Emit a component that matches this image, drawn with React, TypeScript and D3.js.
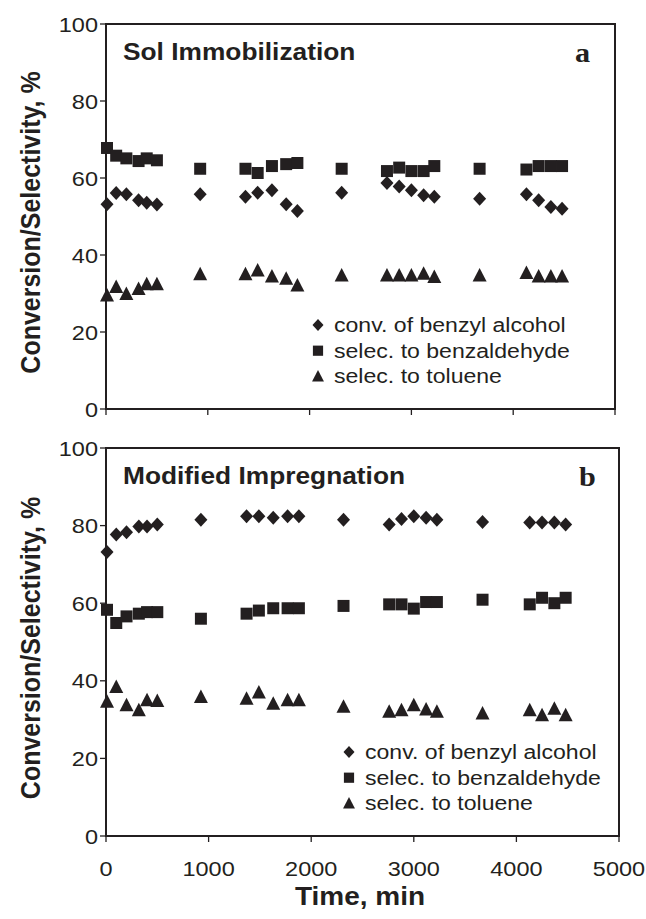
import React from 'react';
import * as d3 from 'd3';

// time points (min), shared by both panels
const TIME = [10, 100, 200, 320, 400, 500, 925, 1370, 1490, 1630, 1770, 1880, 2315, 2760, 2880, 3000, 3120, 3225, 3670, 4130, 4250, 4370, 4480];

// panel a: Sol Immobilization
const A_CONV = [53.2, 56.1, 55.8, 54.2, 53.6, 53.1, 55.8, 55.1, 56.2, 56.8, 53.2, 51.4, 56.2, 58.7, 57.8, 56.8, 55.5, 55.1, 54.6, 55.8, 54.2, 52.5, 52.0];
const A_BENZ = [67.8, 65.8, 65.1, 64.4, 65.1, 64.6, 62.4, 62.4, 61.3, 63.1, 63.6, 63.9, 62.4, 61.8, 62.7, 61.8, 61.8, 63.1, 62.4, 62.2, 63.1, 63.1, 63.1];
const A_TOL = [29.5, 31.7, 29.9, 31.2, 32.4, 32.4, 35.0, 35.0, 36.0, 34.4, 33.8, 32.1, 34.7, 34.7, 34.7, 34.7, 35.1, 34.3, 34.7, 35.3, 34.4, 34.4, 34.4];

// panel b: Modified Impregnation
const B_CONV = [73.2, 77.7, 78.3, 79.8, 79.8, 80.3, 81.5, 82.4, 82.4, 82.0, 82.4, 82.4, 81.5, 80.3, 81.7, 82.4, 82.0, 81.5, 80.9, 80.8, 80.8, 80.8, 80.3];
const B_BENZ = [58.3, 54.9, 56.6, 57.3, 57.7, 57.7, 56.0, 57.3, 58.1, 58.7, 58.7, 58.7, 59.3, 59.7, 59.7, 58.6, 60.3, 60.3, 60.9, 59.7, 61.4, 60.0, 61.4];
const B_TOL = [34.6, 38.4, 33.7, 32.4, 35.0, 34.8, 35.8, 35.4, 37.0, 34.1, 35.0, 35.0, 33.3, 32.0, 32.4, 33.7, 32.6, 32.0, 31.6, 32.4, 31.1, 32.8, 31.1];

const Y_TICKS = [0, 20, 40, 60, 80, 100];
const X_TICKS = [0, 1000, 2000, 3000, 4000, 5000];
const SERIES_LABELS = ['conv. of benzyl alcohol', 'selec. to benzaldehyde', 'selec. to toluene'];
const PANEL_TITLES = ['Sol Immobilization', 'Modified Impregnation'];
const PANEL_LETTERS = ['a', 'b'];

const INK = '#231f20';
const SANS = '"Liberation Sans", Arial, Helvetica, sans-serif';
const SERIF = '"Liberation Serif", "Times New Roman", serif';
const STRETCH = 1.12; // the source figure is a bit wider than tall

const markerPath = (kind: string) => {
  if (kind === 'diamond') return 'M0,-7L6.5,0L0,7L-6.5,0Z';
  if (kind === 'square') return 'M-6,-6H6V6H-6Z';
  return 'M0,-7.5L7,6L-7,6Z';
};
const KINDS = ['diamond', 'square', 'triangle'];

const PANELS = [
  { top: 24, bottom: 409, left: 106, right: 615, series: [A_CONV, A_BENZ, A_TOL], showX: false, legendX: 318, legendY: 325 },
  { top: 448, bottom: 836, left: 106, right: 619, series: [B_CONV, B_BENZ, B_TOL], showX: true, legendX: 349, legendY: 752 },
];

function Panel({ idx }: { idx: number }) {
  const p = PANELS[idx];
  const x = d3.scaleLinear().domain([0, 5000]).range([p.left, p.right]);
  const y = d3.scaleLinear().domain([0, 100]).range([p.bottom, p.top]);
  const midY = (p.top + p.bottom) / 2;

  return (
    <g>
      {/* frame */}
      <rect x={p.left} y={p.top} width={p.right - p.left} height={p.bottom - p.top} fill="none" stroke={INK} strokeWidth={2} />

      {/* y ticks */}
      {Y_TICKS.map((t) => (
        <g key={'y' + t}>
          <line x1={p.left - 6} x2={p.left} y1={y(t)} y2={y(t)} stroke={INK} strokeWidth={1.3} />
          <text transform={`translate(${p.left - 8},${y(t) + 7.5}) scale(${STRETCH},1)`} textAnchor="end" fontFamily={SANS} fontSize={21} fill={INK}>{t}</text>
        </g>
      ))}

      {/* x ticks */}
      {X_TICKS.map((t) => (
        <g key={'x' + t}>
          <line x1={x(t)} x2={x(t)} y1={p.bottom} y2={p.bottom + 6} stroke={INK} strokeWidth={1.3} />
          {p.showX && (
            <text transform={`translate(${x(t)},${p.bottom + 40}) scale(${STRETCH},1)`} textAnchor="middle" fontFamily={SANS} fontSize={21} fill={INK}>{t}</text>
          )}
        </g>
      ))}

      {/* y axis title */}
      <text transform={`translate(40,${midY + 6}) scale(${STRETCH},1) rotate(-90)`} textAnchor="middle" fontFamily={SANS} fontWeight="bold" fontSize={25} fill={INK}>Conversion/Selectivity, %</text>

      {/* panel title and letter */}
      <text transform={`translate(${p.left + 17},${p.top + 36}) scale(${STRETCH},1)`} fontFamily={SANS} fontWeight="bold" fontSize={23.5} fill={INK}>{PANEL_TITLES[idx]}</text>
      <text transform={`translate(${p.right - 40},${p.top + 38}) scale(${STRETCH},1)`} fontFamily={SERIF} fontWeight="bold" fontSize={27} fill={INK}>{PANEL_LETTERS[idx]}</text>

      {/* markers */}
      {p.series.map((vals, si) => (
        <g key={'s' + si} fill={INK}>
          {vals.map((v, i) => (
            <path key={i} d={markerPath(KINDS[si])} transform={`translate(${x(TIME[i])},${y(v)})`} />
          ))}
        </g>
      ))}

      {/* legend */}
      {SERIES_LABELS.map((lab, si) => {
        const cy = p.legendY + si * 25.7;
        return (
          <g key={'l' + si}>
            <path d={markerPath(KINDS[si])} transform={`translate(${p.legendX},${cy}) scale(0.85)`} fill={INK} />
            <text transform={`translate(${p.legendX + 16},${cy + 7}) scale(${STRETCH},1)`} fontFamily={SANS} fontSize={20.6} fill={INK}>{lab}</text>
          </g>
        );
      })}
    </g>
  );
}

export default function App() {
  return (
    <svg width={646} height={919} style={{ position: 'absolute', left: 0, top: 0, background: '#fff' }}>
      <rect width={646} height={919} fill="#fff" />
      <Panel idx={0} />
      <Panel idx={1} />
      <text transform={`translate(360,905) scale(${STRETCH},1)`} textAnchor="middle" fontFamily={SANS} fontWeight="bold" fontSize={25} fill={INK}>Time, min</text>
    </svg>
  );
}
